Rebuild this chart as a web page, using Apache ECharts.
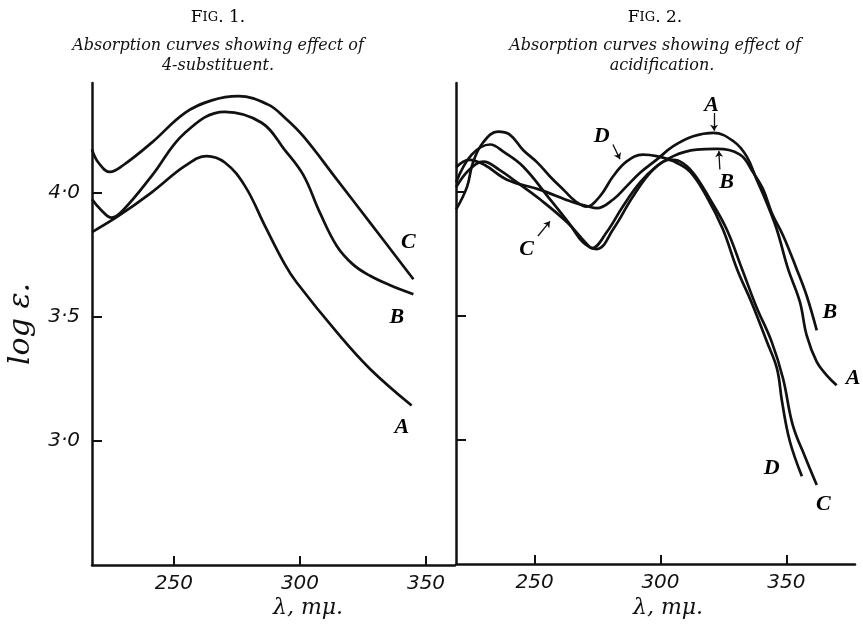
<!DOCTYPE html>
<html><head><meta charset="utf-8">
<script src="https://cdn.jsdelivr.net/npm/echarts@6/dist/echarts.min.js"></script>
<style>html,body{margin:0;padding:0;background:#fff}#c{width:863px;height:626px}</style>
</head><body><div id="c"></div><script>
// ---- data (wavelength nm, log epsilon) ----
const xTicks = [250, 300, 350];
const yTicks = [3.0, 3.5, 4.0];

const fig1A = [[217.5,3.84],[228,3.905],[241.2,4.0],[254.4,4.106],[263,4.146],[270.2,4.12],[278.2,4.025],[286.1,3.865],[294,3.71],[298.7,3.637],[314.6,3.437],[327.8,3.289],[344.3,3.142]];
const fig1B = [[217.5,3.972],[221,3.93],[225.3,3.898],[230,3.93],[241.2,4.066],[254.4,4.24],[270.2,4.324],[284.8,4.28],[294,4.17],[301.3,4.07],[307.9,3.918],[314.6,3.784],[321,3.71],[327.8,3.664],[336,3.625],[345,3.59]];
const fig1C = [[217.5,4.173],[220,4.12],[224.6,4.082],[230,4.11],[241.2,4.20],[254.4,4.32],[265,4.37],[275.5,4.387],[287.4,4.353],[294,4.30],[301.3,4.226],[314.6,4.052],[327.8,3.878],[345,3.65]];

const fig2A = [[218.8,4.10],[224,4.13],[230,4.11],[239,4.05],[252,4.01],[265,3.96],[271,3.943],[274.7,3.935],[281.2,3.97],[286.6,4.024],[291.9,4.078],[298.5,4.131],[305.1,4.185],[313,4.225],[321,4.239],[329,4.205],[334.2,4.145],[338.2,4.051],[342.2,3.957],[346.2,3.85],[350.7,3.69],[355.4,3.557],[358.1,3.422],[362.1,3.315],[365.8,3.264],[370,3.221]];
const fig2B = [[218.8,4.04],[225,4.151],[232.3,4.192],[238,4.16],[245.4,4.103],[256.1,3.971],[264,3.87],[269.2,3.798],[274.7,3.77],[281.2,3.85],[289.2,3.984],[297.1,4.091],[305.1,4.145],[314.4,4.171],[322.3,4.174],[331.6,4.151],[336.9,4.078],[340.8,4.011],[344.2,3.917],[348.8,3.823],[354.1,3.69],[358.1,3.582],[362.1,3.442]];
const fig2C = [[218.8,4.02],[224,4.09],[229.7,4.123],[236,4.09],[243,4.039],[252.1,3.971],[262.9,3.878],[270.8,3.79],[272.8,3.774],[278.6,3.838],[285.1,3.943],[291.9,4.039],[298.5,4.104],[303.8,4.131],[307.7,4.124],[312.9,4.079],[319.7,3.971],[326.3,3.85],[332.4,3.69],[338,3.54],[344.2,3.396],[348.7,3.248],[352.6,3.059],[357.4,2.934],[362.1,2.819]];
const fig2D = [[218.8,3.93],[223.1,4.02],[225.5,4.12],[229.5,4.20],[235.4,4.244],[240.1,4.232],[245.4,4.17],[251,4.12],[256.1,4.063],[262.1,4.003],[266,3.965],[270.6,3.941],[276,3.984],[281.2,4.064],[286.6,4.124],[293,4.151],[298.5,4.145],[305,4.125],[311.7,4.083],[318.5,3.979],[324.8,3.85],[330.4,3.69],[336.4,3.55],[342.3,3.396],[346.3,3.288],[348.3,3.155],[351.4,2.995],[356.2,2.854]];

// curve labels: [text, wavelength, logE]
const fig1Labels = [['C',343,3.798],['B',338.4,3.497],['A',340.4,3.055]];
const fig2Labels = [['A',320.3,4.352],['B',326.3,4.038],['D',276.6,4.225],['C',246.8,3.77],['B',367.3,3.516],['A',376.5,3.248],['D',344.2,2.886],['C',364.7,2.739]];
// pointer arrows: [from, to]
const fig2Arrows = [[[321.3,4.319],[321.3,4.247]],[[323.6,4.091],[323.2,4.166]],[[281.1,4.192],[283.9,4.133]],[[251.3,3.823],[256.1,3.882]]];

const ink = '#111';
const sans = 'DejaVu Sans';
const serif = 'DejaVu Serif';

function xAxis(i, min, max) {
  return {
    type: 'value', gridIndex: i, min: min, max: max,
    axisLine: {show: true, lineStyle: {color: ink, width: 2.5}},
    axisTick: {show: true, inside: true, length: 9, customValues: xTicks, lineStyle: {color: ink, width: 2}},
    axisLabel: {show: true, customValues: xTicks, color: ink, fontSize: 20, fontStyle: 'italic', fontFamily: sans, margin: 9},
    splitLine: {show: false}
  };
}
function yAxis(i, showLabel) {
  return {
    type: 'value', gridIndex: i, min: 2.5, max: 4.44,
    axisLine: {show: true, lineStyle: {color: ink, width: 2.5}},
    axisTick: {show: true, inside: true, length: 10, customValues: yTicks, lineStyle: {color: ink, width: 2}},
    axisLabel: {show: showLabel, customValues: yTicks, color: ink, fontSize: 20, fontStyle: 'italic', fontFamily: sans, margin: 12,
      formatter: v => v.toFixed(1).replace('.', '\u00b7')},
    splitLine: {show: false},
    name: showLabel ? 'log \u03b5.' : '', nameLocation: 'middle', nameGap: 56, nameRotate: 90,
    nameTextStyle: {color: ink, fontSize: 30, fontStyle: 'italic', fontFamily: serif}
  };
}
function curve(d, i) {
  return {type: 'line', xAxisIndex: i, yAxisIndex: i, data: d, smooth: 0.4, symbol: 'none',
    lineStyle: {color: ink, width: 2.7}, silent: true, z: 3};
}
function labels(arr, i) {
  return {type: 'scatter', xAxisIndex: i, yAxisIndex: i, symbolSize: 1, itemStyle: {color: '#fff', opacity: 1},
    data: arr.map(a => ({name: a[0], value: [a[1], a[2]]})),
    label: {show: true, position: 'inside', formatter: p => p.name, color: '#000', opacity: 1, fontSize: 22, fontWeight: 'bold', fontStyle: 'italic', fontFamily: 'Liberation Serif'},
    silent: true, z: 5};
}

const titleFont = 'italic 16px "' + serif + '"';
const figRich = {a: {fontSize: 17, fontFamily: serif, fill: '#000'}, b: {fontSize: 13, fontFamily: serif, fill: '#000'}};
const option = {
  animation: false,
  backgroundColor: '#fff',
  grid: [{left: 92, top: 83, width: 363, height: 482}, {left: 456, top: 83, width: 399, height: 481}],
  xAxis: [xAxis(0, 217.5, 361.5), xAxis(1, 218.75, 377.3)],
  yAxis: [yAxis(0, true), yAxis(1, false)],
  series: [
    curve(fig1A, 0), curve(fig1B, 0), curve(fig1C, 0),
    curve(fig2A, 1), curve(fig2B, 1), curve(fig2C, 1), curve(fig2D, 1),
    labels(fig1Labels, 0), labels(fig2Labels, 1),
    {type: 'lines', coordinateSystem: 'cartesian2d', xAxisIndex: 1, yAxisIndex: 1,
      data: fig2Arrows.map(a => ({coords: a})), symbol: ['none', 'arrow'], symbolSize: 6,
      lineStyle: {color: ink, width: 1.3, opacity: 1}, silent: true, z: 4}
  ],
  graphic: [
    {type: 'text', x: 218, y: 18, style: {text: '{a|F}{b|IG}{a|. 1.}', textAlign: 'center', textVerticalAlign: 'middle', rich: figRich}},
    {type: 'text', x: 218, y: 46, style: {text: 'Absorption curves showing effect of', font: titleFont, fill: ink, textAlign: 'center', textVerticalAlign: 'middle'}},
    {type: 'text', x: 218, y: 66, style: {text: '4-substituent.', font: titleFont, fill: ink, textAlign: 'center', textVerticalAlign: 'middle'}},
    {type: 'text', x: 655, y: 18, style: {text: '{a|F}{b|IG}{a|. 2.}', textAlign: 'center', textVerticalAlign: 'middle', rich: figRich}},
    {type: 'text', x: 655, y: 46, style: {text: 'Absorption curves showing effect of', font: titleFont, fill: ink, textAlign: 'center', textVerticalAlign: 'middle'}},
    {type: 'text', x: 662, y: 66, style: {text: 'acidification.', font: titleFont, fill: ink, textAlign: 'center', textVerticalAlign: 'middle'}},
    {type: 'text', x: 308, y: 608, style: {text: '\u03bb, m\u03bc.', font: 'italic 22px "' + serif + '"', fill: ink, textAlign: 'center', textVerticalAlign: 'middle'}},
    {type: 'text', x: 668, y: 608, style: {text: '\u03bb, m\u03bc.', font: 'italic 22px "' + serif + '"', fill: ink, textAlign: 'center', textVerticalAlign: 'middle'}}
  ]
};
const chart = echarts.init(document.getElementById('c'), null, {renderer: 'canvas'});
chart.setOption(option);
</script></body></html>
